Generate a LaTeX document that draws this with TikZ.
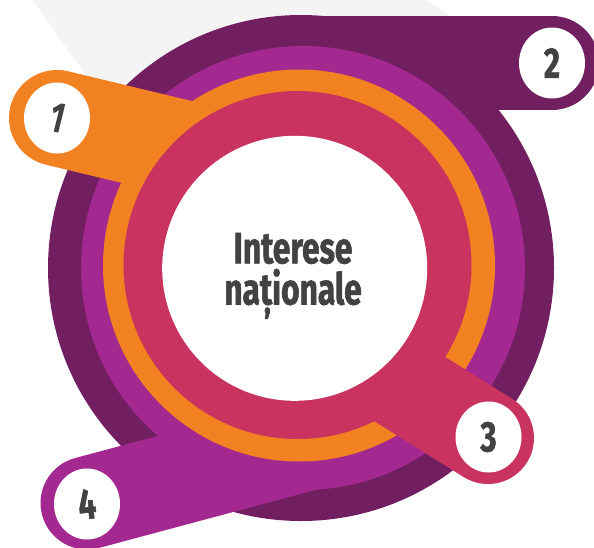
\documentclass[tikz,border=0pt]{standalone}
\usepackage{fontspec}
\usetikzlibrary{shapes.geometric}
\newfontfamily\condfont[FakeStretch=0.72,BoldFeatures={FakeBold=1.3}]{Fira Sans}
\definecolor{bggray}{HTML}{F4F4F4}
\definecolor{darkpurple}{HTML}{721F62}
\definecolor{magentap}{HTML}{A3288F}
\definecolor{orangep}{HTML}{F28122}
\definecolor{crimsonp}{HTML}{C83360}
\definecolor{textgray}{HTML}{424242}
\tikzset{
  badge/.style={shape=ellipse, fill=white, minimum width=66pt, minimum height=71pt, inner sep=0pt,
    text=textgray, font=\condfont\bfseries\fontsize{43}{43}\selectfont},
  titletext/.style={text=textgray, font=\condfont\bfseries\fontsize{44}{44}\selectfont, inner sep=0pt},
}
\begin{document}
\begin{tikzpicture}[x=1pt,y=-1pt]
\useasboundingbox (0,0) rectangle (594,547);
\clip (0,0) rectangle (594,547);
% background gray shape
\fill[bggray] (32,0) -- (427,0) -- (452,17) -- (300,120) -- (100,95) -- cycle;
% dark purple disc and tab 2
\fill[darkpurple] (301,268) circle (253);
\fill[darkpurple] (301,16) rectangle (552,110);
\fill[darkpurple] (552,63) circle (47);
% magenta disc and tab 4
\fill[magentap] (303,268) circle (222);
\draw[magentap, line width=93pt, line cap=round] (87,503) -- (328.5,438.3);
% orange disc and tab 1
\fill[orangep] (299,265.5) circle (196);
\draw[orangep, line width=96pt, line cap=round] (57,118) -- (285.5,172.9);
% crimson disc and tab 3
\fill[crimsonp] (297.5,265) circle (174);
\draw[crimsonp, line width=92pt, line cap=round] (488,438) -- (318.4,332);
% white center
\fill[white] (294.7,268.3) circle (132.5);
% badges
\node[badge] (b1) at (57,118) {\rotatebox{-8}{\itshape 1}};
\node[badge] (b2) at (552,63) {2};
\node[badge] (b3) at (488.5,437) {3};
\node[badge] (b4) at (87,504) {\rotatebox{6}{4}};
% title
\node[titletext, anchor=base] (t1) at (293,263.3) {Interese};
\node[titletext, anchor=base] (t2) at (293,304.5) {na\char"021B ionale};
\end{tikzpicture}
\end{document}
